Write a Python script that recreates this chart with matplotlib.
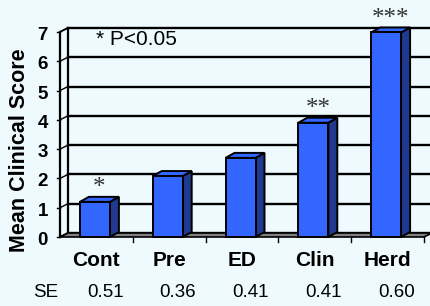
import numpy as np
import matplotlib
matplotlib.use('Agg')
import matplotlib.pyplot as plt
from matplotlib.patches import Polygon, Rectangle

categories = ['Cont', 'Pre', 'ED', 'Clin', 'Herd']
scores = [1.2, 2.08, 2.7, 3.9, 6.98]
se_values = ['0.51', '0.36', '0.41', '0.41', '0.60']
stars = ['*', '', '', '**', '***']
yticks = [0, 1, 2, 3, 4, 5, 6, 7]

bg = '#eefafd'
front_c = '#3366ff'
side_c = '#1f3a8f'
floor_c = '#808080'

plt.rcParams['font.family'] = ['Liberation Sans', 'DejaVu Sans']

fig = plt.figure(figsize=(4.31, 3.06), dpi=100, facecolor=bg)
ax = fig.add_axes([0, 0, 1, 1])
ax.set_facecolor(bg)
ax.axis('off')

# pixel scale of the plot: one category = 72.8 px, one unit = 29.3 px
px_x = 1 / 72.8
px_y = 1 / 29.3
ax.set_xlim(-60 * px_x, 371 * px_x)
ax.set_ylim(-69 * px_y, 237 * px_y)

n = len(categories)
ymax = yticks[-1]
wdx, wdy = 8 * px_x, 4 * px_y     # wall depth
bdx, bdy = 9 * px_x, 5 * px_y     # bar depth
bw = 30 * px_x

# side wall and back wall
ax.add_patch(Polygon([(0, 0), (wdx, wdy), (wdx, ymax + wdy), (0, ymax)],
                     closed=True, facecolor=bg, edgecolor='black', lw=1.2))
ax.plot([wdx, wdx], [wdy, ymax + wdy], color='black', lw=1.6)
for t in yticks:
    ax.plot([wdx, n + 2 * wdx], [t + wdy, t + wdy], color='black', lw=1.7, zorder=1)
    ax.plot([0, wdx], [t, t + wdy], color='black', lw=1, zorder=1)
    ax.plot([-3 * px_x, 0], [t, t], color='black', lw=1)
    ax.text(-12 * px_x, t - 0.12, str(t), ha='right', va='center',
            fontsize=13.5, fontweight='bold')
ax.plot([0, 0], [0, ymax], color='black', lw=1.6)

# floor
ax.add_patch(Polygon([(0, 0), (n, 0), (n + wdx, wdy), (wdx, wdy)], closed=True,
                     facecolor=floor_c, edgecolor='black', lw=1.2, zorder=2))
for i in range(1, n + 1):
    ax.plot([i, i], [0, -5 * px_y], color='black', lw=1, zorder=2)

# bars
for i, (cat, v) in enumerate(zip(categories, scores)):
    c = i + 0.5 - 1.5 * px_x
    x0, x1 = c - bw / 2, c + bw / 2
    ax.add_patch(Polygon([(x1, 0), (x1 + bdx, bdy), (x1 + bdx, v + bdy), (x1, v)],
                         closed=True, facecolor=side_c, edgecolor='black', lw=1.4, zorder=3))
    ax.add_patch(Polygon([(x0, v), (x1, v), (x1 + bdx, v + bdy), (x0 + bdx, v + bdy)],
                         closed=True, facecolor=front_c, edgecolor='black', lw=1.4, zorder=3))
    ax.add_patch(Rectangle((x0, 0), bw, v, facecolor=front_c, edgecolor='black',
                           lw=1.4, zorder=4))
    if stars[i]:
        ax.text(c + bdx / 2, v + bdy - 0.08, stars[i], ha='center', va='bottom',
                fontsize=18, color='#333333', family='Liberation Serif', zorder=5)
    ax.text(i + 0.5, -0.8, cat, ha='center', va='center', fontsize=15, fontweight='bold')
    ax.text(i + 0.62, -1.9, se_values[i], ha='center', va='center', fontsize=13.5)

ax.text(-0.2, -1.9, 'SE', ha='center', va='center', fontsize=13.5)
ax.text(0.5, 6.75, '* P<0.05', ha='left', va='center', fontsize=15)
ax.text(-0.55, 2.97, 'Mean Clinical Score', ha='center', va='center', rotation=90,
        fontsize=15.5, fontweight='bold')

fig.savefig('out.png', dpi=100, facecolor=bg)
